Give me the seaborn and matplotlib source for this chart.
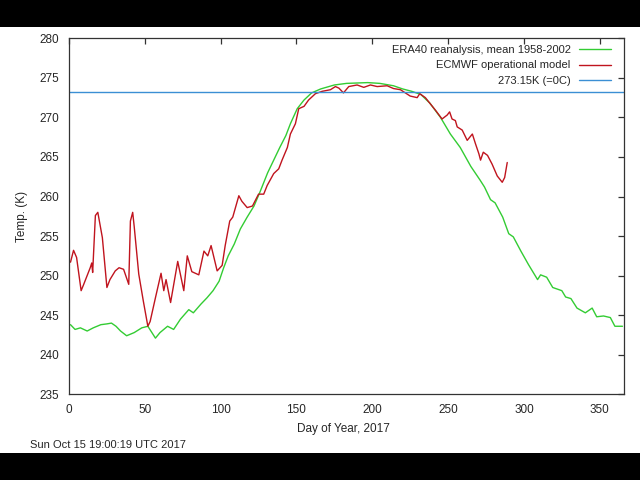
import matplotlib
matplotlib.use("Agg")
import matplotlib.pyplot as plt
import seaborn as sns
from matplotlib.patches import Rectangle

# ERA40 mean (green)
era_day = [1, 4, 7.5, 12, 16, 21, 25, 28, 31, 34, 38, 43, 48, 52, 57, 60, 65, 69,
           73.5, 79, 82, 87, 91, 95, 99, 102, 105, 109, 113, 117.5, 122, 126, 131,
           135, 139, 143, 146, 150.5, 155, 160, 166, 175, 183, 197, 205, 214, 220,
           226, 232, 238, 245, 251.5, 258, 265, 271, 274, 278, 281, 286, 290, 293,
           298, 303, 309, 311, 315, 319, 325, 327.5, 331, 335, 340.5, 345, 348,
           352.5, 357, 360, 365]
era_temp = [243.8, 243.2, 243.4, 243.0, 243.4, 243.8, 243.9, 244.0, 243.6, 243.0,
            242.4, 242.8, 243.4, 243.6, 242.1, 242.8, 243.6, 243.2, 244.5, 245.7,
            245.3, 246.4, 247.2, 248.1, 249.3, 251.0, 252.5, 254.0, 255.9, 257.4,
            258.8, 260.6, 263.0, 264.6, 266.2, 267.7, 269.2, 271.1, 272.2, 273.1,
            273.6, 274.1, 274.3, 274.4, 274.3, 274.0, 273.6, 273.3, 272.9, 271.8,
            270.0, 267.9, 266.2, 263.8, 262.1, 261.2, 259.6, 259.2, 257.4, 255.3,
            254.9, 253.1, 251.4, 249.5, 250.1, 249.8, 248.5, 248.1, 247.3, 247.1,
            245.9, 245.3, 245.9, 244.8, 244.9, 244.7, 243.6, 243.6]

# ECMWF operational model (red)
ecm_day = [1, 3, 5, 8, 9.5, 14, 15, 15.6, 17.4, 19, 22, 25, 27, 30.5, 33, 36, 39.4,
           40.5, 42, 43, 46, 49, 52, 53.5, 57, 60.7, 62.5, 64, 67, 71.7, 75.7, 78,
           81, 85.6, 89, 91.5, 93.7, 97.7, 101, 103, 106, 108, 112, 114, 117.5, 121,
           125, 128.4, 130.7, 135, 138.3, 140.5, 144, 146, 149.3, 151.5, 155, 158,
           162.5, 167, 172.4, 175.7, 178, 181, 184.5, 190, 194.4, 198.8, 203.2,
           209.8, 214, 218.6, 225, 229.6, 231.3, 235, 241.7, 246, 249.4, 251, 252.6,
           254.8, 256, 259.3, 262.6, 266, 268, 270.3, 271.4, 273.2, 276, 279, 282.4,
           285.7, 287.3, 289]
ecm_temp = [251.7, 253.2, 252.3, 248.1, 248.8, 251.0, 251.6, 250.4, 257.6, 258.0,
            254.8, 248.5, 249.5, 250.6, 251.0, 250.8, 248.9, 256.9, 258.0, 256.2,
            250.2, 246.8, 243.6, 244.2, 247.2, 250.3, 248.1, 249.5, 246.6, 251.8,
            248.1, 252.5, 250.5, 250.1, 253.1, 252.5, 253.8, 250.6, 251.3, 253.8,
            256.9, 257.4, 260.1, 259.4, 258.6, 258.8, 260.3, 260.3, 261.4, 262.9,
            263.5, 264.6, 266.2, 267.9, 269.2, 271.1, 271.4, 272.2, 273.0, 273.3,
            273.5, 273.9, 273.7, 273.1, 273.9, 274.1, 273.8, 274.1, 273.9, 274.0,
            273.65, 273.5, 272.7, 272.5, 273.0, 272.5, 270.9, 269.8, 270.3, 270.7,
            269.8, 269.6, 268.8, 268.4, 267.1, 267.9, 266.7, 265.4, 264.6, 265.6,
            265.2, 264.1, 262.6, 261.8, 262.4, 264.3]

freezing = 273.15
x_ticks = [0, 50, 100, 150, 200, 250, 300, 350]
y_ticks = [235, 240, 245, 250, 255, 260, 265, 270, 275, 280]

sns.set_style("white")
plt.rcParams['font.family'] = ['Liberation Sans', 'DejaVu Sans']
plt.rcParams['font.size'] = 8.5

fig = plt.figure(figsize=(6.4, 4.8), dpi=100, facecolor='white')
# black letterbox bars top and bottom
fig.patches.append(Rectangle((0, 453 / 480), 1, 27 / 480, transform=fig.transFigure,
                             facecolor='black', edgecolor='none'))
fig.patches.append(Rectangle((0, 0), 1, 27 / 480, transform=fig.transFigure,
                             facecolor='black', edgecolor='none'))

ax = fig.add_axes([69 / 640, (480 - 394.3) / 480, 555 / 640, 356 / 480])

sns.lineplot(x=era_day, y=era_temp, ax=ax, color='#33cc33', lw=1.0,
             label='ERA40 reanalysis, mean 1958-2002')
sns.lineplot(x=ecm_day, y=ecm_temp, ax=ax, color='#c0141e', lw=1.0,
             label='ECMWF operational model')
ax.axhline(freezing, color='#3b8fd4', lw=1.0, label='273.15K (=0C)')

ax.set_xlim(0, 366)
ax.set_ylim(235, 280)
ax.set_xticks(x_ticks)
ax.set_yticks(y_ticks)
ax.tick_params(direction='in', length=4, width=0.9, top=True, right=True,
               labelsize=8.5, color='#333333', pad=7)
ax.set_xticklabels([str(t) for t in x_ticks])
ax.set_yticklabels([str(t) for t in y_ticks])
for s in ax.spines.values():
    s.set_color('#333333')
    s.set_linewidth(0.9)

ax.set_xlabel('Day of Year, 2017', fontsize=8.5, va='center')
ax.xaxis.set_label_coords(0.495, -0.0975)
ax.set_ylabel('Temp. (K)', fontsize=8.5, va='center')
ax.yaxis.set_label_coords(-0.085, 0.5)

leg = ax.legend(loc='upper right', bbox_to_anchor=(0.987, 0.997), frameon=False,
                markerfirst=False, borderpad=0, handlelength=2.9,
                handletextpad=0.75, labelspacing=0.5, fontsize=8)

fig.text(30 / 640, 1 - 445 / 480, 'Sun Oct 15 19:00:19 UTC 2017', fontsize=8,
         va='center', ha='left')

fig.savefig('out.png', dpi=100, facecolor='white')
